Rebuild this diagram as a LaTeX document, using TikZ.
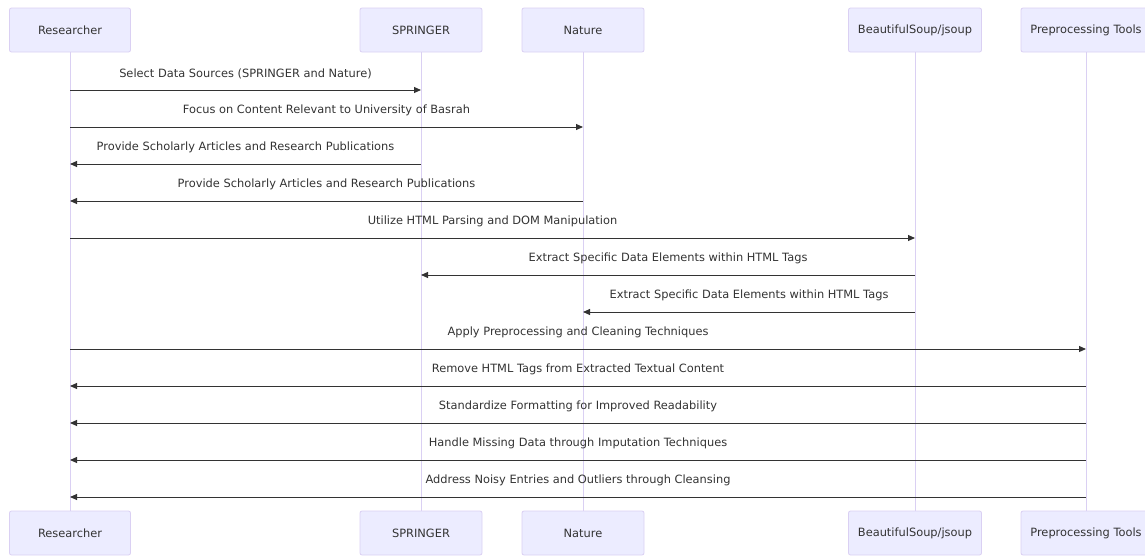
\documentclass[tikz,border=0pt]{standalone}
\usepackage{fontspec}
\setmainfont{DejaVu Sans}
\usetikzlibrary{arrows.meta}

\definecolor{actfill}{HTML}{ECECFF}
\definecolor{actline}{HTML}{DAD0F3}
\definecolor{msgline}{HTML}{333333}

\begin{document}
\begin{tikzpicture}[x=1pt,y=-1pt,>={Triangle[length=7pt,width=6pt]},
                        font=\fontsize{11.4}{13}\selectfont]
      \tikzstyle{actor}=[draw=actline,fill=actfill,rounded corners=2pt,
                         minimum height=44pt,line width=0.8pt,text=msgline]
      \tikzstyle{msg}=[->,draw=msgline,line width=1pt]

      \useasboundingbox (0,0) rectangle (1145,555);

      % participants, top and bottom
      \foreach \n/\x/\w/\t in {res/70/121/Researcher, spr/421/122/SPRINGER,
                               nat/583/122/Nature, bsj/915/133/{BeautifulSoup/jsoup},
                               pre/1086/130/Preprocessing Tools} {
        \node[actor,minimum width=\w pt] (\n)  at (\x,30)  {\t};
        \node[actor,minimum width=\w pt] (\n b) at (\x,533) {\t};
        \draw[actline,line width=1pt] (\n.south) -- (\n b.north);
      }

      % messages
      \foreach \y/\a/\b/\t in {
          90/res/spr/Select Data Sources (SPRINGER and Nature),
          127/res/nat/Focus on Content Relevant to University of Basrah,
          164/spr/res/Provide Scholarly Articles and Research Publications,
          201/nat/res/Provide Scholarly Articles and Research Publications,
          238/res/bsj/Utilize HTML Parsing and DOM Manipulation,
          275/bsj/spr/Extract Specific Data Elements within HTML Tags,
          312/bsj/nat/Extract Specific Data Elements within HTML Tags,
          349/res/pre/Apply Preprocessing and Cleaning Techniques,
          386/pre/res/Remove HTML Tags from Extracted Textual Content,
          423/pre/res/Standardize Formatting for Improved Readability,
          460/pre/res/Handle Missing Data through Imputation Techniques,
          497/pre/res/Address Noisy Entries and Outliers through Cleansing} {
        \draw[msg] (\a.south |- 0,\y) -- (\b.south |- 0,\y)
            node[midway,above=7pt,text=msgline] {\t};
      }

    \end{tikzpicture}
\end{document}
